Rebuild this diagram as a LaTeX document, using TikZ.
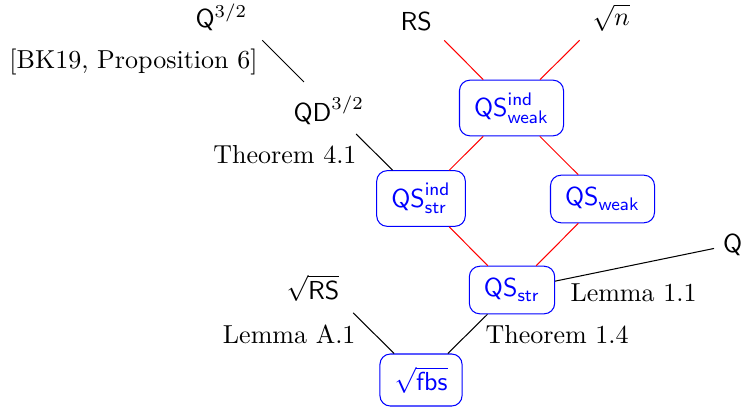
\documentclass[tikz,border=0pt]{standalone}
\begin{document}
\begin{tikzpicture}[x=0.3846pt,y=-0.3846pt,
  box/.style={draw=blue,text=blue,rounded corners=4pt,inner xsep=5.6pt,inner ysep=4.8pt,line width=0.4pt},
  txt/.style={inner sep=0pt},
  redline/.style={red,line width=0.4pt},
  blkline/.style={black,line width=0.4pt}]
\useasboundingbox (0,0) rectangle (745,411);
% grid points of the free ends
\coordinate (gq) at (239,17);
\coordinate (gqd) at (330,108);
\coordinate (grs) at (421,17);
\coordinate (gn) at (603,17);
\coordinate (gsrs) at (330,290);
% plain texts
\node[txt,anchor=base west] (q32) at (195,27) {$\mathsf{Q}^{3/2}$};
\node[txt,anchor=base west] (qd) at (293,121) {$\mathsf{QD}^{3/2}$};
\node[txt,anchor=base west] (rs) at (400,30) {$\mathsf{RS}$};
\node[txt,anchor=base west] (sn) at (592,25) {$\sqrt{n}$};
\node[txt,anchor=base west] (srs) at (286,299) {$\sqrt{\mathsf{RS}}$};
\node[inner sep=3.33pt,anchor=base west] (qr) at (714,252) {$\mathsf{Q}$};
% boxes
\node[box] (qsiw) at (511.5,108) {$\mathsf{QS}^{\mathsf{ind}}_{\mathsf{weak}}$};
\node[box] (qsis) at (421,198.5) {$\mathsf{QS}^{\mathsf{ind}}_{\mathsf{str}}$};
\node[box] (qsw) at (602.5,199) {$\mathsf{QS}_{\mathsf{weak}}$};
\node[box] (qss) at (512,290) {$\mathsf{QS}_{\mathsf{str}}$};
\node[box] (fbs) at (421,380) {$\sqrt{\mathsf{fbs}}$};
% labels
\node[txt,anchor=base east] (l1) at (258,68) {[BK19, Proposition 6]};
\node[txt,anchor=base east] (l2) at (357,163) {Theorem 4.1};
\node[txt,anchor=base east] (l3) at (356,343) {Lemma A.1};
\node[txt,anchor=base west] (l4) at (485,343) {Theorem 1.4};
\node[txt,anchor=base west] (l5) at (570,301) {Lemma 1.1};
% connectors
\draw[blkline,shorten <=12.7pt,shorten >=14.2pt] (gq) -- (gqd);
\draw[blkline,shorten <=14.2pt] (gqd) -- (qsis);
\draw[redline,shorten <=12.7pt] (grs) -- (qsiw);
\draw[redline,shorten <=12.7pt] (gn) -- (qsiw);
\draw[redline] (qsiw) -- (qsis);
\draw[redline] (qsiw) -- (qsw);
\draw[redline] (qsis) -- (qss);
\draw[redline] (qsw) -- (qss);
\draw[blkline] (qss) -- (qr);
\draw[blkline] (qss) -- (fbs);
\draw[blkline,shorten <=12.5pt] (gsrs) -- (fbs);
\end{tikzpicture}
\end{document}
